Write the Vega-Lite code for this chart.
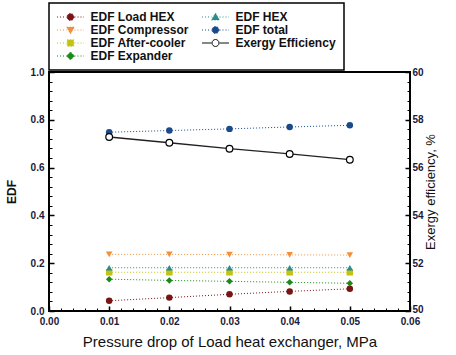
{
  "$schema": "https://vega.github.io/schema/vega-lite/v6.json",
  "width": 361,
  "height": 239,
  "autosize": "none",
  "padding": {"left": 49, "top": 72, "right": 46, "bottom": 44},
  "background": "white",
  "config": {
    "font": "Liberation Sans",
    "view": {"stroke": "black", "strokeWidth": 2},
    "axis": {
      "grid": false,
      "domain": false,
      "tickColor": "black",
      "tickSize": -4,
      "tickWidth": 1.5,
      "tickCount": 100,
      "labelOverlap": false,
      "labelFlush": false,
      "labelFont": "Liberation Sans",
      "labelFontWeight": "bold",
      "labelFontSize": 10,
      "labelColor": "#1a1a3a",
      "titleFont": "Liberation Sans",
      "titleColor": "#111111"
    }
  },
  "datasets": {
    "edf": [
      {"p": 0.01, "series": "EDF Load HEX", "value": 0.043},
      {"p": 0.02, "series": "EDF Load HEX", "value": 0.056},
      {"p": 0.03, "series": "EDF Load HEX", "value": 0.070},
      {"p": 0.04, "series": "EDF Load HEX", "value": 0.082},
      {"p": 0.05, "series": "EDF Load HEX", "value": 0.093},
      {"p": 0.01, "series": "EDF Compressor", "value": 0.237},
      {"p": 0.02, "series": "EDF Compressor", "value": 0.237},
      {"p": 0.03, "series": "EDF Compressor", "value": 0.236},
      {"p": 0.04, "series": "EDF Compressor", "value": 0.235},
      {"p": 0.05, "series": "EDF Compressor", "value": 0.234},
      {"p": 0.01, "series": "EDF After-cooler", "value": 0.162},
      {"p": 0.02, "series": "EDF After-cooler", "value": 0.162},
      {"p": 0.03, "series": "EDF After-cooler", "value": 0.162},
      {"p": 0.04, "series": "EDF After-cooler", "value": 0.162},
      {"p": 0.05, "series": "EDF After-cooler", "value": 0.162},
      {"p": 0.01, "series": "EDF Expander", "value": 0.133},
      {"p": 0.02, "series": "EDF Expander", "value": 0.128},
      {"p": 0.03, "series": "EDF Expander", "value": 0.124},
      {"p": 0.04, "series": "EDF Expander", "value": 0.120},
      {"p": 0.05, "series": "EDF Expander", "value": 0.116},
      {"p": 0.01, "series": "EDF HEX", "value": 0.181},
      {"p": 0.02, "series": "EDF HEX", "value": 0.181},
      {"p": 0.03, "series": "EDF HEX", "value": 0.181},
      {"p": 0.04, "series": "EDF HEX", "value": 0.181},
      {"p": 0.05, "series": "EDF HEX", "value": 0.181},
      {"p": 0.01, "series": "EDF total", "value": 0.748},
      {"p": 0.02, "series": "EDF total", "value": 0.755},
      {"p": 0.03, "series": "EDF total", "value": 0.762},
      {"p": 0.04, "series": "EDF total", "value": 0.770},
      {"p": 0.05, "series": "EDF total", "value": 0.777}
    ],
    "exergy": [
      {"p": 0.01, "series": "Exergy Efficiency", "eff": 57.28},
      {"p": 0.02, "series": "Exergy Efficiency", "eff": 57.04},
      {"p": 0.03, "series": "Exergy Efficiency", "eff": 56.79},
      {"p": 0.04, "series": "Exergy Efficiency", "eff": 56.57},
      {"p": 0.05, "series": "Exergy Efficiency", "eff": 56.33}
    ]
  },
  "layer": [
    {
      "data": {"name": "edf"},
      "layer": [
        {
          "mark": {"type": "line", "strokeDash": [1, 2], "strokeWidth": 1},
          "encoding": {
            "x": {"field": "p", "type": "quantitative", "scale": {"domain": [0, 0.06]},
                  "axis": {"values": [0, 0.002, 0.004, 0.006, 0.008, 0.01, 0.012, 0.014, 0.016, 0.018, 0.02, 0.022, 0.024, 0.026, 0.028, 0.03, 0.032, 0.034, 0.036, 0.038, 0.04, 0.042, 0.044, 0.046, 0.048, 0.05, 0.052, 0.054, 0.056, 0.058, 0.06],
                           "tickCount": 100,
                           "format": ".2f", "labelPadding": 10, "labelOverlap": false, "labelFlush": false,
                           "labelExpr": "abs(datum.value * 100 - round(datum.value * 100)) < 0.001 ? datum.label : ''",
                           "tickSize": {"condition": {"test": "abs(datum.value * 100 - round(datum.value * 100)) < 0.001", "value": -5}, "value": -3},
                           "tickWidth": {"condition": {"test": "abs(datum.value * 100 - round(datum.value * 100)) < 0.001", "value": 1.5}, "value": 1},
                           "title": "Pressure drop of Load heat exchanger, MPa", "titleFontSize": 15, "titleFontWeight": "normal", "titlePadding": 6}},
            "y": {"field": "value", "type": "quantitative", "scale": {"domain": [0, 1]},
                  "axis": {"orient": "left", "values": [0, 0.04, 0.08, 0.12, 0.16, 0.2, 0.24, 0.28, 0.32, 0.36, 0.4, 0.44, 0.48, 0.52, 0.56, 0.6, 0.64, 0.68, 0.72, 0.76, 0.8, 0.84, 0.88, 0.92, 0.96, 1.0],
                           "tickCount": 100,
                           "format": ".1f", "labelPadding": 10, "labelOverlap": false, "labelFlush": false,
                           "labelExpr": "abs(datum.value * 5 - round(datum.value * 5)) < 0.001 ? datum.label : ''",
                           "tickSize": {"condition": {"test": "abs(datum.value * 5 - round(datum.value * 5)) < 0.001", "value": -5}, "value": -3},
                           "tickWidth": {"condition": {"test": "abs(datum.value * 5 - round(datum.value * 5)) < 0.001", "value": 1.5}, "value": 1},
                           "title": "EDF", "titleFontSize": 12, "titleFontWeight": "bold", "titlePadding": 12}},
            "color": {
              "field": "series", "type": "nominal",
              "scale": {
                "domain": ["EDF Load HEX", "EDF Compressor", "EDF After-cooler", "EDF Expander", "EDF HEX", "EDF total", "Exergy Efficiency"],
                "range": ["#7a1414", "#f0903c", "#c2c214", "#1a8a1a", "#2a8c8c", "#1a4a8a", "#111111"]
              },
              "legend": {
                "orient": "none", "legendX": 0, "legendY": -69,
                "title": null, "columns": 2, "columnPadding": 11, "rowPadding": 1,
                "padding": 8, "strokeColor": "black",
                "labelFont": "Liberation Sans", "labelFontSize": 12, "labelFontWeight": "bold", "labelColor": "#111111",
                "labelOffset": 14, "symbolOffset": 7.5, "symbolSize": 100, "symbolType": "circle",
                "encode": {
                  "legend": {"update": {"stroke": {"value": "black"}, "strokeWidth": {"value": 1.5}}},
                  "symbols": {"update": {
                    "shape": {"signal": "{'EDF Load HEX':'M-2.7,0H-0.8M0.8,0H2.7M0.7,0A0.7,0.7,0,1,1,-0.7,0A0.7,0.7,0,1,1,0.7,0Z','EDF total':'M-2.7,0H-0.8M0.8,0H2.7M0.7,0A0.7,0.7,0,1,1,-0.7,0A0.7,0.7,0,1,1,0.7,0Z','Exergy Efficiency':'M-2.7,0H-0.8M0.8,0H2.7M0.7,0A0.7,0.7,0,1,1,-0.7,0A0.7,0.7,0,1,1,0.7,0Z','EDF Compressor':'M-2.7,0H-0.8M0.8,0H2.7M-0.8,-0.6H0.8L0,0.8Z','EDF After-cooler':'M-2.7,0H-0.8M0.8,0H2.7M-0.65,-0.65H0.65V0.65H-0.65Z','EDF Expander':'M-2.7,0H-0.8M0.8,0H2.7M0,-0.8L0.8,0L0,0.8L-0.8,0Z','EDF HEX':'M-2.7,0H-0.8M0.8,0H2.7M-0.8,0.6H0.8L0,-0.8Z'}[datum.value]"},
                    "fill": {"signal": "{'EDF Load HEX':'#7a1414','EDF HEX':'#2a8c8c','EDF Compressor':'#f0903c','EDF total':'#1a4a8a','EDF After-cooler':'#c2c214','Exergy Efficiency':'#ffffff','EDF Expander':'#1a8a1a'}[datum.value]"},
                    "stroke": {"signal": "{'EDF Load HEX':'#7a1414','EDF HEX':'#2a8c8c','EDF Compressor':'#f0903c','EDF total':'#1a4a8a','EDF After-cooler':'#c2c214','Exergy Efficiency':'#000000','EDF Expander':'#1a8a1a'}[datum.value]"},
                    "strokeDash": {"signal": "datum.value === 'Exergy Efficiency' ? [] : [1, 2]"},
                    "strokeWidth": {"value": 1},
                    "opacity": {"value": 1}
                  }}
                }
              }
            }
          }
        },
        {
          "mark": {"type": "point", "filled": true, "size": 42, "opacity": 1},
          "encoding": {
            "x": {"field": "p", "type": "quantitative"},
            "y": {"field": "value", "type": "quantitative"},
            "fill": {
              "field": "series", "type": "nominal", "legend": null,
              "scale": {
                "domain": ["EDF Load HEX", "EDF HEX", "EDF Compressor", "EDF total", "EDF After-cooler", "EDF Expander"],
                "range": ["#7a1414", "#2a8c8c", "#f0903c", "#1a4a8a", "#c2c214", "#1a8a1a"]
              }
            },
            "shape": {
              "field": "series", "type": "nominal", "legend": null,
              "scale": {
                "domain": ["EDF Load HEX", "EDF HEX", "EDF Compressor", "EDF total", "EDF After-cooler", "EDF Expander"],
                "range": ["circle", "triangle-up", "triangle-down", "circle", "square", "diamond"]
              }
            }
          }
        }
      ]
    },
    {
      "data": {"name": "exergy"},
      "layer": [
        {
          "mark": {"type": "line", "color": "#222222", "strokeWidth": 1.3},
          "encoding": {
            "x": {"field": "p", "type": "quantitative"},
            "y": {"field": "eff", "type": "quantitative", "scale": {"domain": [50, 60]},
                  "axis": {"orient": "right", "values": [50, 50.4, 50.8, 51.2, 51.6, 52, 52.4, 52.8, 53.2, 53.6, 54, 54.4, 54.8, 55.2, 55.6, 56, 56.4, 56.8, 57.2, 57.6, 58, 58.4, 58.8, 59.2, 59.6, 60],
                           "tickCount": 100, "format": ".0f",
                           "labelPadding": 7, "labelOverlap": false, "labelFlush": false,
                           "labelOffset": {"condition": {"test": "datum.value === 50", "value": -2}, "value": 0},
                           "labelExpr": "abs(datum.value / 2 - round(datum.value / 2)) < 0.001 ? datum.label : ''",
                           "tickSize": {"condition": {"test": "abs(datum.value / 2 - round(datum.value / 2)) < 0.001", "value": -5}, "value": -3},
                           "tickWidth": {"condition": {"test": "abs(datum.value / 2 - round(datum.value / 2)) < 0.001", "value": 1.5}, "value": 1},
                           "title": "Exergy efficiency, %", "titleFontSize": 13, "titleFontWeight": "normal", "titleAngle": 270, "titlePadding": 14}}
          }
        },
        {
          "mark": {"type": "point", "shape": "circle", "filled": true, "fill": "white", "stroke": "black", "strokeWidth": 1.2, "size": 45, "opacity": 1},
          "encoding": {
            "x": {"field": "p", "type": "quantitative"},
            "y": {"field": "eff", "type": "quantitative"}
          }
        }
      ]
    }
  ],
  "resolve": {"scale": {"y": "independent"}}
}
